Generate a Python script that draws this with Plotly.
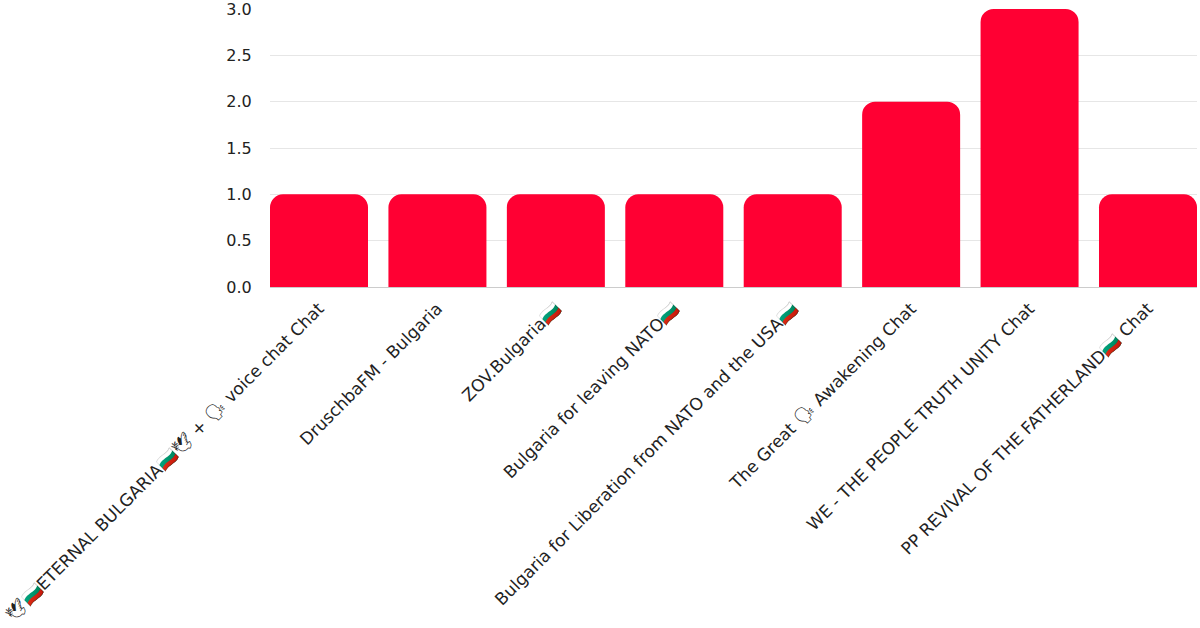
import plotly.graph_objects as go

categories = [
    "🕊🇧🇬ETERNAL BULGARIA🇧🇬🕊 + 🗣 voice chat Chat",
    "DruschbaFM - Bulgaria",
    "ZOV.Bulgaria🇧🇬",
    "Bulgaria for leaving NATO🇧🇬",
    "Bulgaria for Liberation from NATO and the USA🇧🇬",
    "The Great 🗣 Awakening Chat",
    "WE - THE PEOPLE TRUTH UNITY Chat",
    "PP REVIVAL OF THE FATHERLAND🇧🇬 Chat",
]
values = [1, 1, 1, 1, 1, 2, 3, 1]
y_ticks = [0, 0.5, 1.0, 1.5, 2.0, 2.5, 3.0]
y_ticklabels = ["0.0", "0.5", "1.0", "1.5", "2.0", "2.5", "3.0"]

bar_w = 0.8275
fig = go.Figure(go.Bar(
    x=list(range(len(categories))),
    y=values,
    marker=dict(color="#FF0033", line=dict(width=0)),
    width=bar_w,
    cliponaxis=False,
))
fig.update_layout(
    width=1200, height=628,
    margin=dict(l=270, r=3, t=9, b=341, autoexpand=False),
    paper_bgcolor="white", plot_bgcolor="white",
    barcornerradius=13,
    showlegend=False,
    font=dict(family="DejaVu Sans, Noto Sans", size=16, color="#222222"),
)
fig.update_xaxes(
    range=[-bar_w / 2, len(categories) - 1 + bar_w / 2],
    tickmode="array",
    tickvals=list(range(len(categories))),
    ticktext=categories,
    tickangle=-45,
    ticks="outside", ticklen=4, tickcolor="rgba(0,0,0,0)",
    showgrid=False,
    showline=False,
    automargin=False,
    ticklabeloverflow="allow",
    tickfont=dict(size=17),
)
fig.update_yaxes(
    range=[0, 3.0005],
    tickmode="array",
    tickvals=y_ticks,
    ticktext=y_ticklabels,
    showgrid=True, gridcolor="#e6e6e6", gridwidth=1,
    zeroline=True, zerolinecolor="#cccccc", zerolinewidth=1,
    ticks="outside", ticklen=14, tickcolor="rgba(0,0,0,0)",
    automargin=False,
    ticklabeloverflow="allow",
    tickfont=dict(size=16),
)
fig.write_html(
    "out.html",
    config={"displayModeBar": False},
    post_script="document.body.style.margin='0';document.body.style.overflow='hidden';",
)
